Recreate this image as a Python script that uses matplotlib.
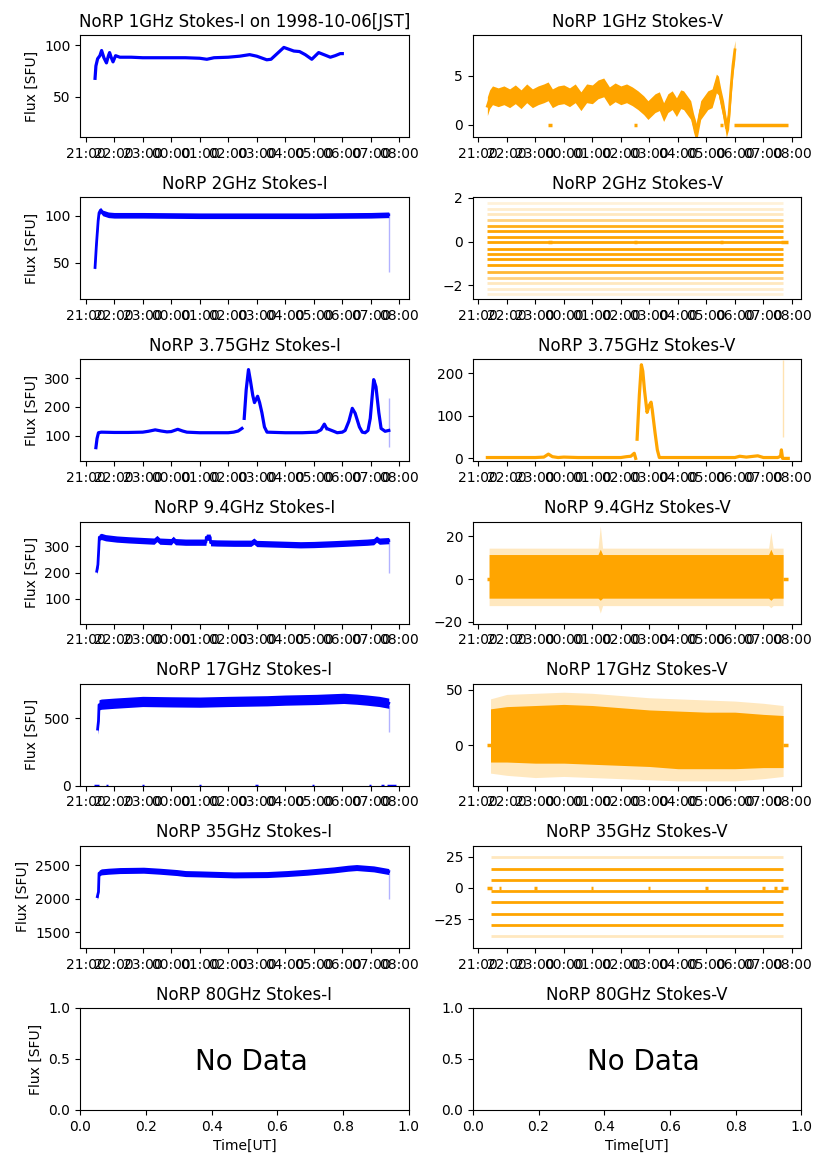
import numpy as np
import pandas as pd
import matplotlib
matplotlib.use('Agg')
import matplotlib.pyplot as plt
import matplotlib.dates as mdates

# hours after 1998-10-05 21:00 UT
t0 = mdates.date2num(pd.Timestamp('1998-10-05 21:00'))

freqs = ['1GHz', '2GHz', '3.75GHz', '9.4GHz', '17GHz', '35GHz', '80GHz']

# ---- 1GHz ----
i1_hrs = [0.33, 0.36, 0.42, 0.50, 0.56, 0.64, 0.73, 0.80, 0.84, 0.90, 0.96, 1.05, 1.2, 1.6, 2.0,
          2.5, 3.0, 3.5, 4.0, 4.25, 4.5, 5.0, 5.4, 5.75, 6.0, 6.2, 6.35, 6.5, 6.95, 7.05, 7.3, 7.5,
          7.7, 7.93, 8.17, 8.4, 8.58, 8.75, 8.93, 9.0]
i1_val = [68, 80, 87, 90, 95, 88, 83, 90, 93, 88, 84, 90, 88.5, 88.5, 88, 88, 88, 88, 87.5, 86.5,
          88, 88.5, 89.5, 91, 89.5, 87.5, 86, 86.5, 98, 97, 94.5, 94, 91, 86.5, 93, 90.5, 88.5, 90,
          92, 92]
v1_hrs = [0.32, 0.40, 0.5, 0.7, 0.9, 1.1, 1.3, 1.5, 1.7, 1.9, 2.1, 2.3, 2.45, 2.6, 2.8, 3.0, 3.2,
          3.4, 3.6, 3.8, 4.0, 4.2, 4.4, 4.6, 4.8, 5.0, 5.2, 5.4, 5.6, 5.8, 5.95, 6.2, 6.35, 6.5,
          6.65, 6.8, 6.95, 7.1, 7.2, 7.45, 7.55, 7.65, 7.8, 8.05, 8.2, 8.35, 8.42, 8.5, 8.6, 8.7,
          8.78, 8.87, 8.93, 9.0]
v1_val = [1.9, 2.6, 3.0, 2.8, 3.0, 2.7, 3.1, 2.6, 3.2, 2.7, 3.0, 3.2, 3.4, 2.7, 3.0, 3.1, 2.8,
          3.2, 2.4, 3.2, 3.1, 3.6, 3.8, 2.9, 3.3, 3.0, 3.2, 2.9, 2.5, 2.0, 1.5, 2.2, 2.4, 1.3,
          2.2, 2.5, 1.8, 2.6, 2.5, 1.5, 0.2, -0.8, 1.5, 2.5, 2.7, 4.2, 4.0, 2.8, 1.5, -0.3, 0.5,
          4.0, 6.0, 7.6]
v1_spread = 0.95
v1_zero = [(2.43, 2.57), (5.47, 5.57), (8.46, 8.58), (8.97, 10.87)]

# ---- 2GHz ----
i2_hrs = [0.33, 0.38, 0.44, 0.47, 0.52, 0.6, 0.8, 1.0, 2.0, 4.0, 6.0, 8.0, 10.0, 10.6, 10.63]
i2_val = [45, 70, 95, 103, 106, 103, 101, 100.5, 100.5, 100, 100, 100, 100.5, 101, 101]
i2_spread = 3
i2_spray = (10.62, 40, 100)
v2_levels = [1.76, 1.5, 1.24, 0.98, 0.73, 0.47, 0.23, 0.0, -0.33, -0.58, -0.82, -1.08, -1.39,
             -1.65, -1.88, -2.15, -2.4]
v2_density = [0.15, 0.2, 0.25, 0.5, 0.9, 1, 1, 1, 1, 1, 1, 1, 0.8, 0.5, 0.25, 0.2, 0.15]
v2_span = (0.32, 10.69)
v2_zero = [(2.43, 2.57), (5.47, 5.57), (8.46, 8.58), (10.63, 10.87)]

# ---- 3.75GHz ----
i3_hrs = [0.36, 0.40, 0.45, 0.55, 1.0, 1.5, 2.0, 2.2, 2.44, 2.65, 2.85, 3.0, 3.23, 3.4, 3.55,
          4.0, 4.5, 5.0, 5.19, 5.35, 5.48, np.nan,
          5.56, 5.63, 5.71, 5.78, 5.86, 5.92, 6.03, 6.10, 6.18, 6.27, 6.36, 7.0, 7.6, 8.1, 8.25,
          8.37, 8.45, np.nan,
          8.52, 8.7, 8.82, 9.0, 9.1, 9.23, 9.35, 9.45, 9.6, 9.7, 9.8, 9.9, 9.98, 10.05, 10.1,
          10.18, 10.28, 10.36, 10.5, 10.63]
i3_val = [58, 90, 110, 112, 111, 111, 112, 115, 120, 116, 113, 114, 122, 116, 112,
          110, 110, 110, 112, 116, 125, np.nan,
          160, 260, 330, 290, 240, 215, 237, 215, 180, 130, 112, 110, 110, 112, 120,
          140, 125, np.nan,
          122, 115, 110, 112, 118, 150, 195, 178, 130, 112, 110, 118, 160, 240, 295,
          270, 180, 125, 115, 118]
i3_spray = (10.62, 60, 230)
v3_hrs = [0.32, 1.0, 2.0, 2.3, 2.46, 2.6, 2.8, 3.0, 3.5, 4.0, 4.5, 5.0, 5.2, 5.35, 5.47, 5.52,
          np.nan, 5.57, 5.65, 5.72, 5.77, 5.83, 5.92, 6.0, 6.06, 6.1, 6.2, 6.28, 6.35, 7.0, 8.0,
          9.0, 9.17, 9.4, 9.8, 10.0, 10.5, 10.6, 10.63, 10.67, 10.87]
v3_val = [2, 2, 2, 3, 10, 4, 2, 3, 2, 2, 2, 2, 4, 5, 12, 0,
          np.nan, 45, 150, 220, 205, 160, 108, 125, 132, 115, 60, 20, 2, 2, 2,
          2, 5, 3, 6, 2, 2, 5, 20, 0, 0]
v3_spray = (10.69, 50, 230)

# ---- 9.4GHz ----
i4_hrs = [0.39, 0.43, 0.46, 0.48, 0.55, 0.7, 1.09, 1.5, 2.03, 2.4, 2.5, 2.6, 3.0, 3.07, 3.15,
          3.5, 4.0, 4.22, 4.23, 4.37, 4.38, 4.6, 5.2, 5.8, 5.9, 6.0, 6.94, 7.53, 8.0, 8.7, 9.3,
          9.87, 10.1, 10.2, 10.3, 10.63]
i4_val = [205, 230, 290, 335, 338, 333, 328, 325, 322, 320, 330, 320, 318, 327, 318, 316, 316,
          316, 335, 335, 314, 313, 312, 312, 320, 311, 308, 306, 307, 310, 313, 316, 318, 328,
          320, 322]
i4_spread = 12
i4_spray = (10.62, 200, 320)
v4_hrs = [0.38, 4.2, 4.28, 4.36, 10.18, 10.26, 10.34, 10.69]
v4_hi = [11.5, 11.5, 14, 11.5, 11.5, 14, 11.5, 11.5]
v4_lo = [-9, -9, -10, -9, -9, -10, -9, -9]
v4_out_hi = [14.5, 14.5, 25, 14.5, 14.5, 22, 14.5, 14.5]
v4_out_lo = [-12.5, -12.5, -16, -12.5, -12.5, -13.5, -12.5, -12.5]
v4_zero = [(0.32, 0.40), (10.69, 10.87)]

# ---- 17GHz ----
i5_hrs = [0.42, 0.45, 0.47, 0.55, 1.0, 2.0, 3.0, 4.0, 5.0, 6.36, 7.0, 8.1, 9.05, 9.5, 9.87,
          10.3, 10.63]
i5_val = [420, 480, 600, 605, 612, 625, 622, 620, 625, 630, 635, 640, 648, 642, 635, 625, 612]
i5_spread = 38
i5_spray = (10.62, 400, 600)
i5_zero = [(0.30, 0.48), (0.70, 0.80), (1.97, 2.05), (3.96, 4.04), (5.95, 6.03), (7.94, 8.02),
           (9.93, 10.0), (10.34, 10.45), (10.57, 10.87)]
v5_hrs = [0.43, 1, 2, 3, 4, 5, 6, 7, 8, 9, 10, 10.69]
v5_hi = [33, 35, 36, 37, 36, 34, 32, 31, 30, 30, 28, 27]
v5_lo = [-15, -15, -16, -16, -17, -18, -19, -21, -21, -21, -20, -20]
v5_out_hi = [42, 46, 47, 48, 47, 45, 43, 42, 41, 40, 38, 36]
v5_out_lo = [-25, -27, -29, -28, -29, -30, -31, -32, -32, -32, -30, -28]
v5_zero = [(0.32, 0.43), (10.69, 10.87)]

# ---- 35GHz ----
i6_hrs = [0.41, 0.45, 0.47, 0.55, 0.8, 1.2, 2.03, 2.6, 3.2, 3.5, 4.0, 5.2, 6.36, 7.06, 7.76,
          8.7, 9.2, 9.5, 10.1, 10.63]
i6_val = [2030, 2100, 2380, 2400, 2410, 2420, 2425, 2410, 2390, 2375, 2370, 2355, 2360, 2375,
          2395, 2430, 2455, 2465, 2445, 2405]
i6_spread = 45
i6_spray = (10.62, 2000, 2400)
v6_levels = [24.5, 15, 6.3, -2.1, -11.6, -20.5, -30, -38.7]
v6_density = [0.25, 1, 1, 1, 1, 1, 1, 0.25]
v6_span = (0.46, 10.69)
v6_zero = [(0.32, 0.49), (0.72, 0.80), (1.97, 2.05), (3.96, 4.04), (5.96, 6.04), (7.96, 8.04),
           (9.96, 10.04), (10.38, 10.46), (10.63, 10.87)]

ylims_i = [(11, 110), (11.3, 119.7), (10.3, 365.5), (5, 395), (0, 757), (1264, 2790)]
ylims_v = [(-1.23, 9.1), (-2.64, 2.03), (-7, 232.6), (-20.9, 27), (-36.3, 55.7), (-47.9, 33.7)]


def tx(h):
    return t0 + np.asarray(h, dtype=float) / 24.0


def zeros(ax, segs, color):
    for a, b in segs:
        ax.hlines(0, tx(a), tx(b), color=color, lw=2.5)


def spray(ax, s, color):
    ax.vlines(tx(s[0]), s[1], s[2], color=color, lw=1, alpha=0.3)


def band(ax, hrs, val, spread, color):
    v = np.asarray(val, dtype=float)
    ax.fill_between(tx(hrs), v - spread, v + spread, color=color, lw=0)
    ax.plot(tx(hrs), v, color=color, lw=2)


def levels(ax, lv, dens, span, color):
    for y, d in zip(lv, dens):
        ax.hlines(y, tx(span[0]), tx(span[1]), color=color, lw=2, alpha=d)


blue = 'blue'
orange = 'orange'

fig, axes = plt.subplots(7, 2, figsize=(8.27, 11.69))
plt.subplots_adjust(left=0.097, right=0.969, top=0.970, bottom=0.0505, hspace=0.59, wspace=0.195)

# Stokes-I
ax = axes[0, 0]
ax.plot(tx(i1_hrs), i1_val, color=blue, lw=2.3)
ax = axes[1, 0]
band(ax, i2_hrs, i2_val, i2_spread, blue)
spray(ax, i2_spray, blue)
ax = axes[2, 0]
ax.plot(tx(i3_hrs), i3_val, color=blue, lw=2.3)
spray(ax, i3_spray, blue)
ax = axes[3, 0]
band(ax, i4_hrs, i4_val, i4_spread, blue)
spray(ax, i4_spray, blue)
ax = axes[4, 0]
band(ax, i5_hrs, i5_val, i5_spread, blue)
spray(ax, i5_spray, blue)
zeros(ax, i5_zero, blue)
ax = axes[5, 0]
band(ax, i6_hrs, i6_val, i6_spread, blue)
spray(ax, i6_spray, blue)

# Stokes-V
ax = axes[0, 1]
band(ax, v1_hrs, v1_val, v1_spread, orange)
zeros(ax, v1_zero, orange)
ax = axes[1, 1]
levels(ax, v2_levels, v2_density, v2_span, orange)
zeros(ax, v2_zero, orange)
ax = axes[2, 1]
ax.plot(tx(v3_hrs), v3_val, color=orange, lw=2.3)
spray(ax, v3_spray, orange)
ax = axes[3, 1]
ax.fill_between(tx(v4_hrs), v4_out_lo, v4_out_hi, color=orange, lw=0, alpha=0.25)
ax.fill_between(tx(v4_hrs), v4_lo, v4_hi, color=orange, lw=0)
zeros(ax, v4_zero, orange)
ax = axes[4, 1]
ax.fill_between(tx(v5_hrs), v5_out_lo, v5_out_hi, color=orange, lw=0, alpha=0.25)
ax.fill_between(tx(v5_hrs), v5_lo, v5_hi, color=orange, lw=0)
zeros(ax, v5_zero, orange)
ax = axes[5, 1]
levels(ax, v6_levels, v6_density, v6_span, orange)
zeros(ax, v6_zero, orange)

for r in range(6):
    for c in range(2):
        ax = axes[r, c]
        ax.set_xlim(tx(-0.19), tx(11.33))
        ax.set_ylim(ylims_i[r] if c == 0 else ylims_v[r])
        ax.xaxis.set_major_locator(mdates.HourLocator(interval=1))
        ax.xaxis.set_major_formatter(mdates.DateFormatter('%H:%M'))
    axes[r, 0].set_title('NoRP %s Stokes-I' % freqs[r])
    axes[r, 1].set_title('NoRP %s Stokes-V' % freqs[r])
    axes[r, 0].set_ylabel('Flux [SFU]')

axes[0, 0].set_title('NoRP 1GHz Stokes-I on 1998-10-06[JST]')

# 80GHz: no data
for c, st in enumerate(['I', 'V']):
    ax = axes[6, c]
    ax.set_title('NoRP %s Stokes-%s' % (freqs[6], st))
    ax.text(0.52, 0.47, 'No Data', ha='center', va='center', fontsize=20, transform=ax.transAxes)
    ax.set_xlabel('Time[UT]')
axes[6, 0].set_ylabel('Flux [SFU]')

plt.savefig('out.png', dpi=100)
